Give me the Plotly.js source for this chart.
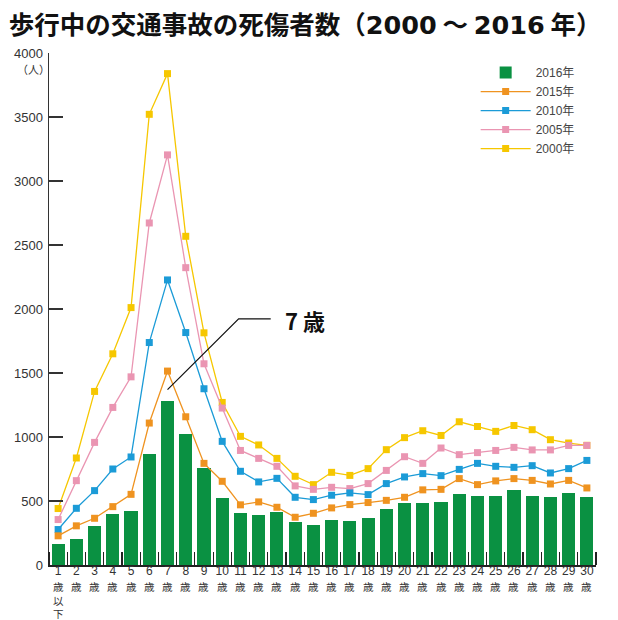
<!DOCTYPE html>
<html>
<head>
<meta charset="utf-8">
<script src="https://cdn.plot.ly/plotly-3.0.1.min.js"></script>
<style>html,body{margin:0;padding:0;background:#fff;}#chart{width:618px;height:620px;}</style>
</head>
<body>
<div id="chart"></div>
<script>
// ---- data ----
const ages = [1,2,3,4,5,6,7,8,9,10,11,12,13,14,15,16,17,18,19,20,21,22,23,24,25,26,27,28,29,30];
const ageLabels = ["1","2","3","4","5","6","7","8","9","10","11","12","13","14","15","16","17","18","19","20","21","22","23","24","25","26","27","28","29","30"];
const y2016 = [168,204,303,396,425,870,1283,1026,755,524,407,394,412,337,314,349,342,365,435,485,485,495,558,537,537,587,537,535,564,535];
const y2015 = [228,306,365,456,552,1109,1515,1158,794,654,470,493,451,373,404,446,472,488,505,529,587,591,675,628,657,675,661,633,661,602];
const y2010 = [277,443,581,750,844,1738,2227,1816,1377,966,732,649,677,529,511,545,563,550,636,688,714,698,747,794,771,763,776,719,753,817];
const y2005 = [355,659,958,1231,1470,2672,3204,2323,1572,1226,895,833,771,618,591,607,597,636,739,846,794,914,862,878,895,919,899,899,934,934];
const y2000 = [441,836,1356,1650,2011,3521,3839,2568,1814,1270,1005,938,833,693,628,724,700,753,901,995,1049,1012,1119,1082,1044,1090,1057,979,953,935];
const yTicks = [0,500,1000,1500,2000,2500,3000,3500,4000];

const CJK = '"Noto Sans CJK JP", sans-serif';
const NUM = '"Liberation Sans Narrow", "Liberation Sans", "Noto Sans CJK JP", sans-serif';

function line(name, ys, color, rank) {
  return {
    type: 'scatter', mode: 'lines+markers', name: name, x: ages, y: ys,
    line: {color: color, width: 1.3},
    marker: {symbol: 'square', size: 7, color: color},
    legendrank: rank, hoverinfo: 'skip'
  };
}

const traces = [
  {type: 'bar', name: '2016年', x: ages, y: y2016, width: 0.72,
   marker: {color: '#0a9142'}, legendrank: 1, hoverinfo: 'skip'},
  line('2000年', y2000, '#f6c700', 5),
  line('2005年', y2005, '#ea95b2', 4),
  line('2010年', y2010, '#1b9bd7', 3),
  line('2015年', y2015, '#ef9320', 2)
];

const annotations = [
  {text: '（人）', xref: 'paper', yref: 'paper', x: -0.028, y: 0.968, showarrow: false,
   font: {family: CJK, size: 11, color: '#333'}, xanchor: 'center', yanchor: 'middle'},
  {text: '7 歳', xref: 'x', yref: 'y', x: 13.35, y: 1915, showarrow: false,
   xanchor: 'left', yanchor: 'middle', font: {family: CJK, size: 22, color: '#111', weight: 'bold'}}
];
ages.forEach(function (a, i) {
  annotations.push({text: i === 0 ? '歳<br>以<br>下' : '歳', xref: 'x', yref: 'paper', x: a, y: -0.0255,
    showarrow: false, borderpad: 0, xanchor: 'center', yanchor: 'top',
    font: {family: CJK, size: 10.5, color: '#333'}});
});

const layout = {
  width: 618, height: 620,
  margin: {l: 49, r: 22, t: 53, b: 55, pad: 0},
  paper_bgcolor: '#fff', plot_bgcolor: '#fff',
  showlegend: true,
  title: {text: '歩行中の交通事故の死傷者数（<span style="font-family:DejaVu Sans">2000</span> ～ <span style="font-family:DejaVu Sans">2016</span> 年）',
          x: 0.014, xanchor: 'left',
          xref: 'container', yref: 'container', y: 0.96, yanchor: 'middle',
          font: {family: CJK, size: 25.5, color: '#111', weight: 'bold'}},
  bargap: 0,
  xaxis: {type: 'linear', range: [0.5, 30.5], tickmode: 'array', tickvals: ages, ticktext: ageLabels,
          ticks: '', showline: true, linecolor: '#222', linewidth: 1.5, showgrid: false, zeroline: false,
          tickfont: {family: NUM, size: 12, color: '#333'}, ticklabelstandoff: -6,
          minor: {tickmode: 'linear', tick0: 0.5, dtick: 1, ticks: 'inside', ticklen: 13,
                  tickcolor: '#222', tickwidth: 1.2, showgrid: false},
          fixedrange: true},
  yaxis: {range: [0, 4000], tickmode: 'array', tickvals: yTicks, ticks: 'inside', ticklen: 14,
          tickwidth: 1.5, tickcolor: '#333', showline: true, linecolor: '#333', linewidth: 1.5,
          showgrid: false, zeroline: false, ticklabelstandoff: 2,
          tickfont: {family: NUM, size: 13, color: '#333'}, fixedrange: true},
  legend: {x: 0.78, xanchor: 'left', y: 0.99, yanchor: 'top', bgcolor: 'rgba(0,0,0,0)',
           itemwidth: 50, tracegroupgap: 0,
           font: {family: NUM, size: 12, color: '#444'}},
  shapes: [
    {type: 'path', xref: 'x', yref: 'y', path: 'M 7,1370 L 10.9,1923 L 12.66,1923',
     line: {color: '#111', width: 1.2}}
  ],
  annotations: annotations
};

Plotly.newPlot('chart', traces, layout, {displayModeBar: false, staticPlot: true});
</script>
</body>
</html>
